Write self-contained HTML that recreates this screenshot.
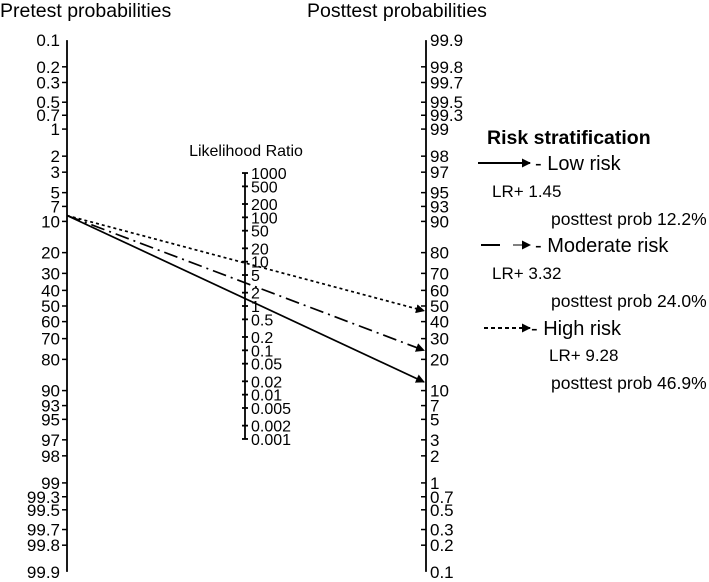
<!DOCTYPE html>
<html><head><meta charset="utf-8"><style>
body{margin:0;background:#fff}
svg{display:block;font-family:"Liberation Sans",Arial,sans-serif}
</style></head><body>
<svg id="c" width="709" height="582" viewBox="0 0 709 582">
<defs>
<marker id="ah" markerWidth="9" markerHeight="9" refX="8" refY="4.5" orient="auto" markerUnits="userSpaceOnUse">
<path d="M0,0 L9,4.5 L0,9 Z" fill="#000"/></marker>
</defs>
<text x="0" y="17" font-size="19.5">Pretest probabilities</text>
<text x="307" y="17" font-size="19.5">Posttest probabilities</text>
<text x="246" y="156" font-size="16" text-anchor="middle">Likelihood Ratio</text>
<g id="axes"></g>
<g id="lines"></g>
<g>
<text x="487" y="144" font-size="19.5" font-weight="bold">Risk stratification</text>
<line x1="478" y1="163" x2="530" y2="163" stroke="#000" stroke-width="2" marker-end="url(#ah)"/>
<text x="535" y="170" font-size="20">- Low risk</text>
<text x="492" y="197" font-size="17">LR+ 1.45</text>
<text x="551" y="225" font-size="17.5">posttest prob 12.2%</text>
<line x1="481" y1="245" x2="500" y2="245" stroke="#000" stroke-width="2"/>
<line x1="513" y1="245" x2="530" y2="245" stroke="#000" stroke-width="1" marker-end="url(#ah)"/>
<text x="535" y="252" font-size="20">- Moderate risk</text>
<text x="492" y="279" font-size="17">LR+ 3.32</text>
<text x="551" y="307" font-size="17.5">posttest prob 24.0%</text>
<line x1="484" y1="328" x2="530" y2="328" stroke="#000" stroke-width="2" stroke-dasharray="4,3" marker-end="url(#ah)"/>
<text x="531" y="335" font-size="20">- High risk</text>
<text x="549" y="361" font-size="17">LR+ 9.28</text>
<text x="551" y="389" font-size="17.5">posttest prob 46.9%</text>
</g>
</svg>
<script>
const probTicks=[0.1,0.2,0.3,0.5,0.7,1,2,3,5,7,10,20,30,40,50,60,70,80,90,93,95,97,98,99,99.3,99.5,99.7,99.8,99.9];
const lrTicks=[1000,500,200,100,50,20,10,5,2,1,0.5,0.2,0.1,0.05,0.02,0.01,0.005,0.002,0.001];
const pretest=8.7;
const riskNames=["low","moderate","high"];
const lrValues=[1.45,3.32,9.28];
const posttest=[12.2,24.0,46.9];

const NS="http://www.w3.org/2000/svg";
const CY=306,K=38.5,XL=67,XR=426,XM=245;
const logit=p=>Math.log((p/100)/(1-p/100));
const yLeft=p=>CY+K*logit(p);
const yRight=p=>CY-K*logit(p);
const yLR=v=>CY-K/2*Math.log(v);
function mk(tag,attrs,parent){const e=document.createElementNS(NS,tag);for(const k in attrs)e.setAttribute(k,attrs[k]);parent.appendChild(e);return e;}
const ax=document.getElementById('axes');
let l=mk('line',{x1:XL,x2:XL,y1:yLeft(0.1),y2:yLeft(99.9),stroke:'#000','stroke-width':1.8},ax);


l=mk('line',{x1:XR,x2:XR,y1:yRight(99.9),y2:yRight(0.1),stroke:'#000','stroke-width':1.8},ax);


l=mk('line',{x1:XM,x2:XM,y1:yLR(1000),y2:yLR(0.001),stroke:'#000','stroke-width':1.8},ax);


probTicks.forEach(p=>{
  const y1=yLeft(p);
  if(p!==0.1&&p!==99.9){const t=mk('line',{x1:XL-5,x2:XL,y1:y1,y2:y1,stroke:'#000','stroke-width':1.5},ax);
  
  }
  const tx=mk('text',{x:XL-7,y:y1+6,'font-size':17,'text-anchor':'end'},ax);tx.textContent=p;
  
  
  const y2=yRight(p);
  if(p!==0.1&&p!==99.9){const t2=mk('line',{x1:XR-5,x2:XR,y1:y2,y2:y2,stroke:'#000','stroke-width':1.5},ax);
  
  }
  const tx2=mk('text',{x:XR+4,y:y2+6,'font-size':17},ax);tx2.textContent=p;
  
  
});
lrTicks.forEach(v=>{
  const y=yLR(v);
  const t=mk('line',{x1:XM-3,x2:XM+3,y1:y,y2:y,stroke:'#000','stroke-width':1.8},ax);
  
  
  const tx=mk('text',{x:XM+6,y:y+6,'font-size':16},ax);tx.textContent=v;
  
  
});
const lg=document.getElementById('lines');
const dashes=["","14,5,2,5","3,3"];
riskNames.forEach((n,i)=>{
  const post=posttest[i];
  const ln=mk('line',{x1:XL,y1:yLeft(pretest),x2:XR-2,y2:yRight(post),stroke:'#000','stroke-width':1.7,'marker-end':'url(#ah)'},lg);
  if(dashes[i])ln.setAttribute('stroke-dasharray',dashes[i]);
  
  
});
</script>
</body></html>
